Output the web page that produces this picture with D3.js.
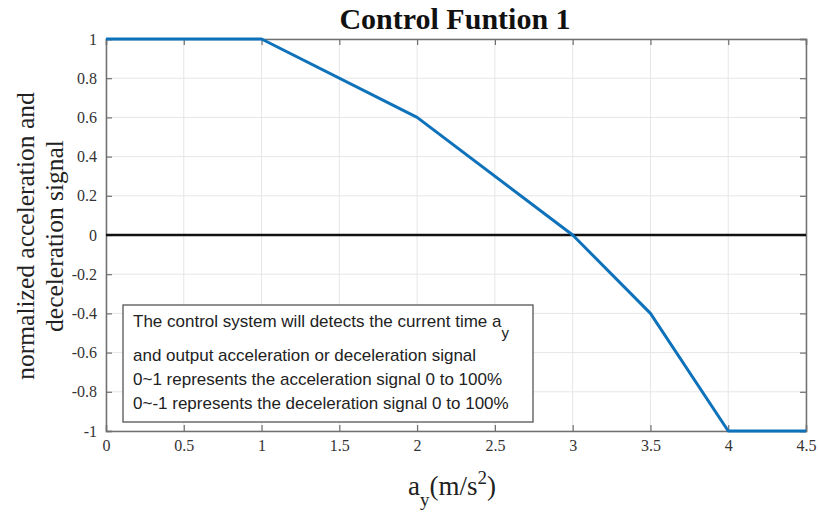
<!DOCTYPE html>
<html><head><meta charset="utf-8">
<script src="https://cdn.jsdelivr.net/npm/d3@7"></script>
<style>body{margin:0;background:#fff}svg{display:block}</style>
</head><body>
<svg id="c" width="818" height="512"></svg>
<script>
const xValues = [0, 1, 2, 3, 3.5, 4, 4.5];
const yValues = [1, 1, 0.6, 0, -0.4, -1, -1];
const xTicks = [0, 0.5, 1, 1.5, 2, 2.5, 3, 3.5, 4, 4.5];
const yTicks = [-1, -0.8, -0.6, -0.4, -0.2, 0, 0.2, 0.4, 0.6, 0.8, 1];
const titleText = "Control Funtion 1";
const yLabelLines = ["normalized acceleration and", "deceleration signal"];
const noteLines = ["and output acceleration or deceleration signal",
  "0~1 represents the acceleration signal 0 to 100%",
  "0~-1 represents the deceleration signal 0 to 100%"];

(function () {
const svg = d3.select("#c");
const L = 106, R = 806, T = 39, B = 431;
const x = d3.scaleLinear().domain([0, 4.5]).range([L, R]);
const y = d3.scaleLinear().domain([-1, 1]).range([B, T]);
const serif = "'Liberation Serif','Times New Roman',serif";
const sans = "'Liberation Sans',Arial,sans-serif";
const fmt = d => String(d);

// grid
const g = svg.append("g");
g.selectAll(".gx").data(xTicks).join("line")
  .attr("x1", d => x(d)).attr("x2", d => x(d)).attr("y1", T).attr("y2", B)
  .attr("stroke", "#e6e6e6").attr("stroke-width", 1);
g.selectAll(".gy").data(yTicks).join("line")
  .attr("y1", d => y(d)).attr("y2", d => y(d)).attr("x1", L).attr("x2", R)
  .attr("stroke", "#e6e6e6").attr("stroke-width", 1);

// axes
const axCol = "#707070";
const axB = svg.append("g").attr("transform", `translate(0,${B})`)
  .call(d3.axisBottom(x).tickValues(xTicks).tickSize(-6).tickPadding(9).tickFormat(fmt));
const axL = svg.append("g").attr("transform", `translate(${L},0)`)
  .call(d3.axisLeft(y).tickValues(yTicks).tickSize(-6).tickPadding(9).tickFormat(fmt));
const axT = svg.append("g").attr("transform", `translate(0,${T})`)
  .call(d3.axisTop(x).tickValues(xTicks).tickSize(-6).tickFormat(""));
const axR = svg.append("g").attr("transform", `translate(${R},0)`)
  .call(d3.axisRight(y).tickValues(yTicks).tickSize(-6).tickFormat(""));
[axB, axL, axT, axR].forEach(a => {
  a.selectAll("path").attr("stroke", axCol).attr("stroke-width", 1.5);
  a.selectAll("line").attr("stroke", axCol).attr("stroke-width", 1.2);
  a.selectAll("text").attr("fill", "#333").style("font-family", serif).style("font-size", "16px");
});

// zero line
svg.append("line").attr("x1", L).attr("x2", R).attr("y1", y(0)).attr("y2", y(0))
  .attr("stroke", "#111").attr("stroke-width", 2.5);

// data line
const pts = xValues.map((v, i) => [v, yValues[i]]);
svg.append("path").datum(pts)
  .attr("d", d3.line().x(d => x(d[0])).y(d => y(d[1])))
  .attr("fill", "none").attr("stroke", "#0e72bb").attr("stroke-width", 3)
  .attr("stroke-linejoin", "round");

// title
svg.append("text").attr("x", 455).attr("y", 29).attr("text-anchor", "middle")
  .style("font-family", serif).style("font-weight", "bold").style("font-size", "30px")
  .attr("fill", "#111").text(titleText);

// y label
yLabelLines.forEach((t, i) => {
  svg.append("text").attr("transform", `translate(${34 + i * 29},236) rotate(-90)`)
    .attr("text-anchor", "middle").style("font-family", serif).style("font-size", "25.5px")
    .attr("fill", "#222").text(t);
});

// x label
const xl = svg.append("text").attr("x", 452).attr("y", 495).attr("text-anchor", "middle")
  .style("font-family", serif).style("font-size", "27px").attr("fill", "#222");
xl.append("tspan").text("a");
xl.append("tspan").attr("dy", 11).style("font-size", "19px").text("y");
xl.append("tspan").attr("dy", -11).text("(m/s");
xl.append("tspan").attr("dy", -11).style("font-size", "19px").text("2");
xl.append("tspan").attr("dy", 11).text(")");

// note box
svg.append("rect").attr("x", 123).attr("y", 305).attr("width", 410).attr("height", 117)
  .attr("fill", "#fff").attr("stroke", "#555").attr("stroke-width", 1.3);
const nt = svg.append("text").attr("x", 133).attr("y", 327)
  .style("font-family", sans).style("font-size", "17px").attr("fill", "#222");
nt.append("tspan").text("The control system will detects the current time a");
nt.append("tspan").attr("dy", 11).style("font-size", "15px").text("y");
const baselines = [361, 385, 409];
noteLines.forEach((t, i) => {
  svg.append("text").attr("x", 133).attr("y", baselines[i])
    .style("font-family", sans).style("font-size", "17px").attr("fill", "#222").text(t);
});
})();
</script>
</body></html>
